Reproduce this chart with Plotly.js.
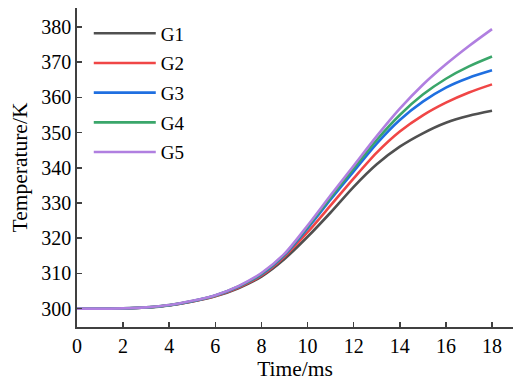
<!DOCTYPE html>
<html><head><meta charset="utf-8">
<script src="https://cdn.plot.ly/plotly-3.0.1.min.js"></script>
<style>html,body{margin:0;padding:0;background:#fff}</style>
</head><body>
<div id="chart" style="width:513px;height:383px"></div>
<script>
const timeMs = [0,1,2,3,4,5,6,7,8,9,10,11,12,13,14,15,16,17,18];
const G1 = [300,300,300.03,300.3,300.9,302.0,303.5,305.8,309.1,314.1,320.4,327.3,334.6,341.0,346.0,349.8,352.8,354.8,356.2];
const G2 = [300,300,300.04,300.32,300.95,302.05,303.6,306.0,309.4,314.8,321.7,329.3,337.0,344.3,350.3,354.9,358.5,361.4,363.7];
const G3 = [300,300,300.05,300.33,300.97,302.1,303.7,306.2,309.7,315.2,322.8,331.0,339.0,346.9,353.6,358.8,362.8,365.6,367.7];
const G4 = [300,300,300.05,300.34,300.98,302.15,303.75,306.3,309.9,315.4,323.2,331.6,339.8,347.9,355.0,360.8,365.3,368.8,371.6];
const G5 = [300,300,300.05,300.35,301.0,302.2,303.8,306.4,310.1,315.6,323.6,332.2,340.6,349.0,356.8,363.6,369.4,374.6,379.4];
const names = ['G1','G2','G3','G4','G5'];
const series = [G1,G2,G3,G4,G5];
const colors = ['#505050','#f04646','#1f6fe0','#3aa66a','#b07fe0'];
const xTicks = [0,2,4,6,8,10,12,14,16,18];
const yTicks = [300,310,320,330,340,350,360,370,380];

const traces = series.map((s,i)=>({
  x: timeMs, y: s, name: names[i], type:'scatter', mode:'lines',
  legendgroup: names[i],
  line:{color: colors[i], width:2.6, shape:'spline', smoothing:0.8}
}));

const font = {family:'"Liberation Serif","Times New Roman",serif', color:'#000'};
const layout = {
  width:513, height:383,
  margin:{l:77, r:0, t:8, b:56},
  paper_bgcolor:'#fff', plot_bgcolor:'#fff',
  showlegend:true,
  legend:{x:0.027, y:0.98, xanchor:'left', yanchor:'top', bgcolor:'rgba(0,0,0,0)',
    font:Object.assign({size:19}, font), itemwidth:62, tracegroupgap:2},
  xaxis:{range:[0,18.91], tickvals:xTicks, ticks:'inside', ticklen:5, tickwidth:1.5,
    tickcolor:'#404040', showline:true, linecolor:'#404040', linewidth:1.8,
    showgrid:false, zeroline:false, tickfont:Object.assign({size:20}, font),
    title:{text:'Time/ms', font:Object.assign({size:21.5}, font), standoff:4}},
  yaxis:{range:[294.77,385.4], tickvals:yTicks, ticks:'inside', ticklen:5, tickwidth:1.5,
    tickcolor:'#404040', showline:true, linecolor:'#404040', linewidth:1.8,
    showgrid:false, zeroline:false, tickfont:Object.assign({size:20}, font),
    title:{text:'Temperature/K', font:Object.assign({size:21.5}, font), standoff:8}}
};
Plotly.newPlot('chart', traces, layout, {displayModeBar:false, staticPlot:true});
</script>
</body></html>
